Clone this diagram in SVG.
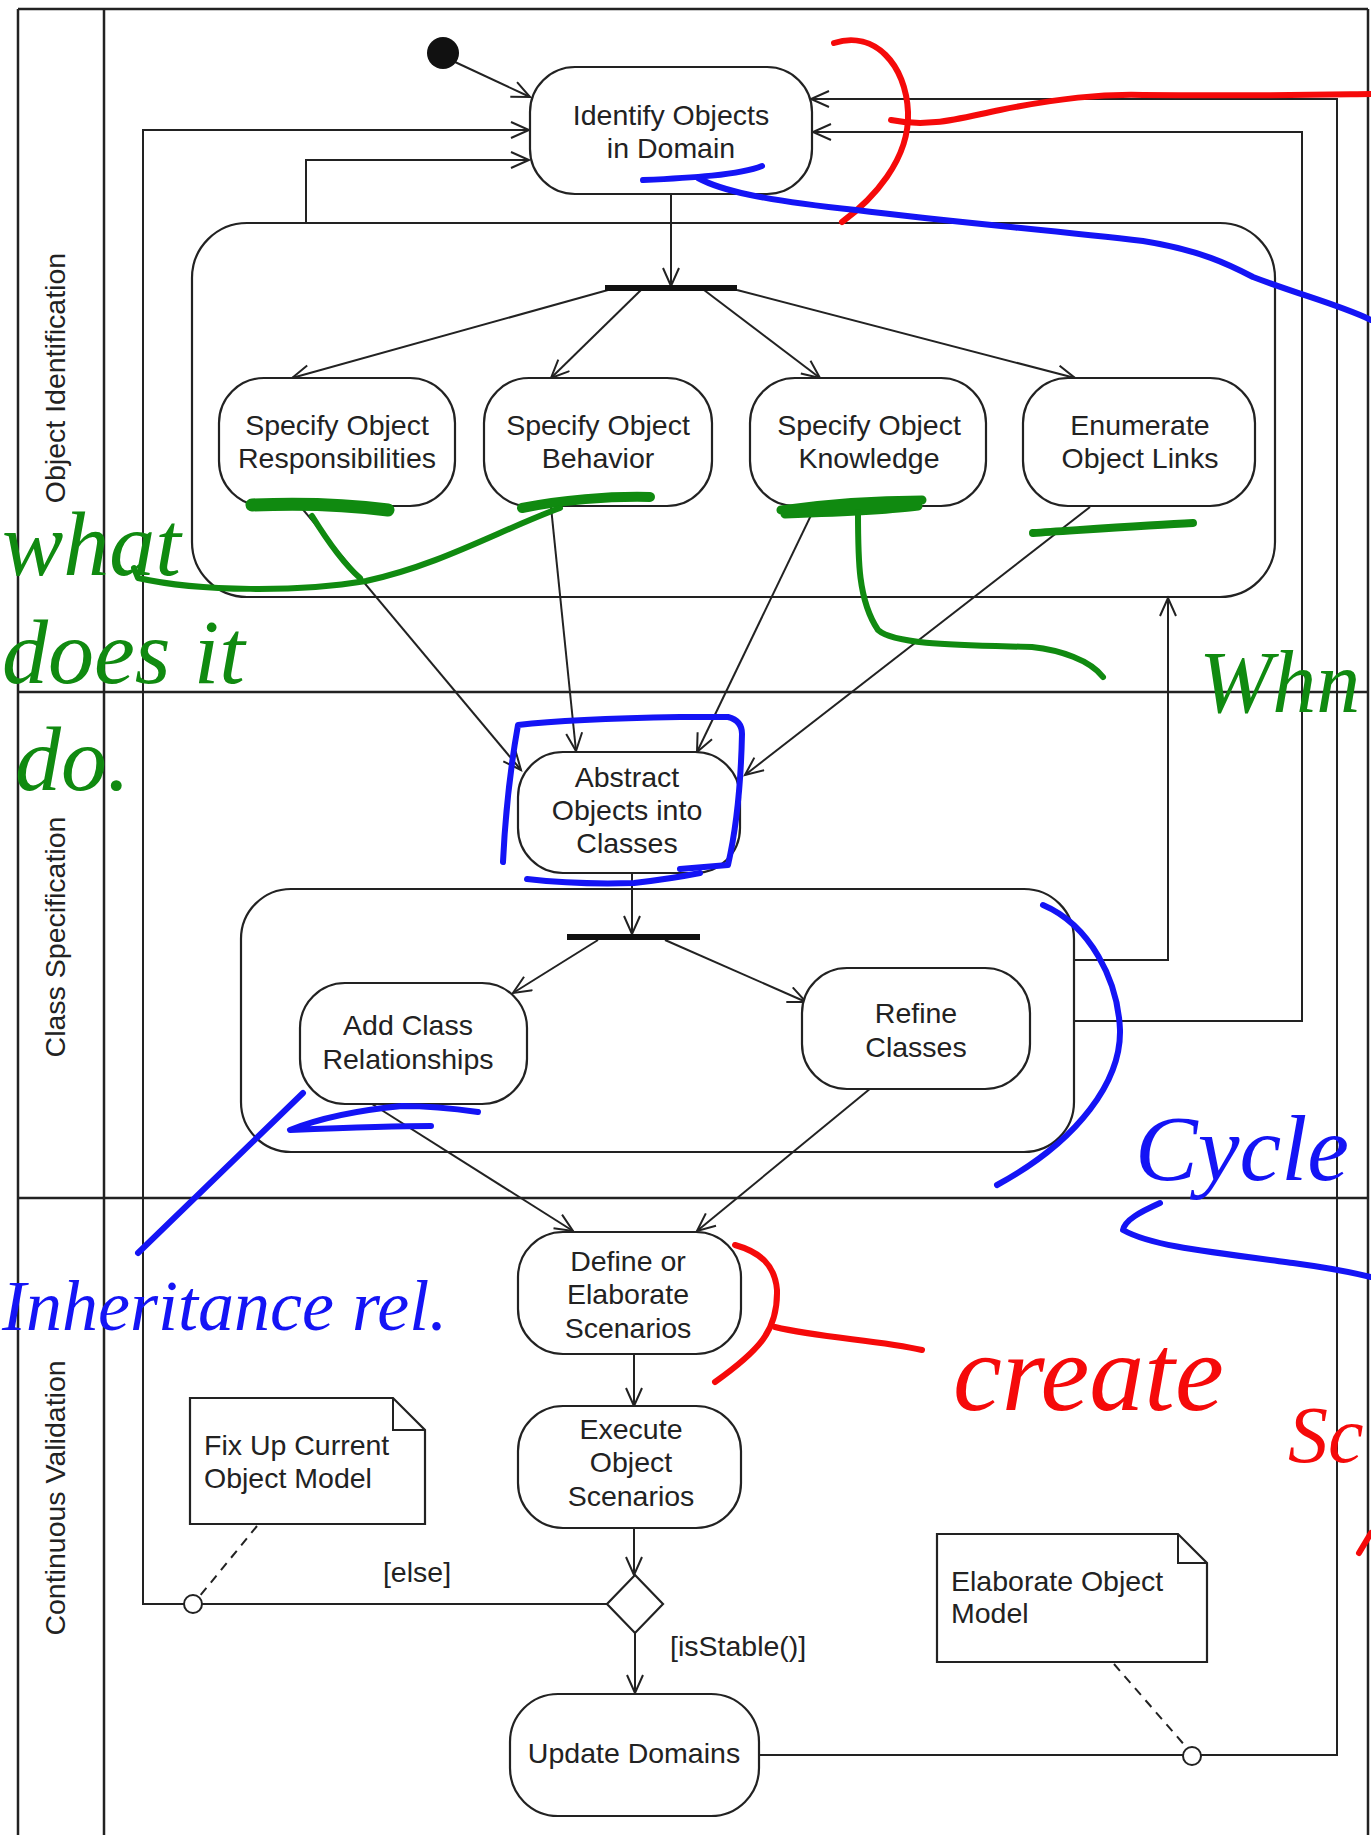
<svg xmlns="http://www.w3.org/2000/svg" width="1371" height="1835" viewBox="0 0 1371 1835">
<defs>
<style>
.frame{stroke:#222;stroke-width:2.5;fill:none}
.box{fill:none;stroke:#222;stroke-width:2.2}
.act{fill:#fff;stroke:#222;stroke-width:2.2}
.note{fill:#fff;stroke:#222;stroke-width:2.2}
.lbl{font-family:"Liberation Sans",Arial,sans-serif;font-size:28.5px;fill:#222;text-anchor:middle}
.lft{font-family:"Liberation Sans",Arial,sans-serif;font-size:28.5px;fill:#222}
.e{stroke:#222;stroke-width:2;fill:none}
.ea{stroke:#222;stroke-width:2;fill:none;marker-end:url(#arr)}
.dash{stroke:#222;stroke-width:2;fill:none;stroke-dasharray:9 7}
.bar{stroke:#111;stroke-width:6}
.g{stroke:#108a10;fill:none;stroke-linecap:round;stroke-linejoin:round}
.b{stroke:#1414f5;fill:none;stroke-linecap:round;stroke-linejoin:round}
.r{stroke:#f50a0a;fill:none;stroke-linecap:round;stroke-linejoin:round}
.hw{font-family:"Liberation Serif","Times New Roman",serif;font-style:italic}
</style>
<marker id="arr" markerUnits="userSpaceOnUse" markerWidth="22" markerHeight="20" viewBox="0 0 22 20" refX="19" refY="9" orient="auto">
<path d="M1,1 L19,9 L1,17" fill="none" stroke="#222" stroke-width="2"/>
</marker>
</defs>
<rect width="1371" height="1835" fill="#fff"/>

<g id="frame">
<line class="frame" x1="18" y1="9" x2="1368" y2="9"/>
<line class="frame" x1="18" y1="9" x2="18" y2="1835"/>
<line class="frame" x1="104" y1="9" x2="104" y2="1835"/>
<line class="frame" x1="1368" y1="9" x2="1368" y2="1835"/>
<line class="frame" x1="18" y1="692" x2="1368" y2="692"/>
<line class="frame" x1="18" y1="1198" x2="1368" y2="1198"/>
<text class="lbl" transform="translate(65,378) rotate(-90)">Object Identification</text>
<text class="lbl" transform="translate(65,937) rotate(-90)">Class Specification</text>
<text class="lbl" transform="translate(65,1498) rotate(-90)">Continuous Validation</text>
</g>

<g id="region-object-identification"><rect class="box" x="192" y="223" width="1083" height="374" rx="55"/></g>
<g id="region-class-specification"><rect class="box" x="241" y="889" width="833" height="263" rx="50"/></g>

<g id="connectors">
<line class="ea" x1="455" y1="62" x2="530" y2="97"/>
<line class="ea" x1="671" y1="195" x2="671" y2="286"/>
<line class="ea" x1="608" y1="290" x2="292" y2="378"/>
<line class="ea" x1="641" y1="290" x2="551" y2="378"/>
<line class="ea" x1="704" y1="290" x2="820" y2="378"/>
<line class="ea" x1="737" y1="290" x2="1075" y2="378"/>
<line class="ea" x1="300" y1="506" x2="521" y2="770"/>
<line class="ea" x1="551" y1="507" x2="576" y2="751"/>
<line class="ea" x1="815" y1="507" x2="697" y2="752"/>
<line class="ea" x1="1090" y1="507" x2="745" y2="775"/>
<line class="ea" x1="632" y1="873" x2="632" y2="934"/>
<line class="ea" x1="598" y1="940" x2="513" y2="993"/>
<line class="ea" x1="665" y1="940" x2="806" y2="1002"/>
<line class="ea" x1="372" y1="1104" x2="573" y2="1231"/>
<line class="ea" x1="871" y1="1088" x2="697" y2="1231"/>
<line class="ea" x1="634" y1="1355" x2="634" y2="1406"/>
<line class="ea" x1="634" y1="1528" x2="634" y2="1575"/>
<line class="ea" x1="635" y1="1633" x2="635" y2="1693"/>
<path class="ea" d="M306,223 V160 H529"/>
<path class="ea" d="M607,1604 H143 V130 H529"/>
<path class="ea" d="M1074,960 H1168 V598"/>
<path class="ea" d="M1074,1021 H1302 V132 H813"/>
<path class="ea" d="M759,1755 H1337 V99 H811"/>
<line class="dash" x1="257" y1="1526" x2="199" y2="1597"/>
<line class="dash" x1="1114" y1="1664" x2="1187" y2="1748"/>
<circle cx="193" cy="1604" r="9" fill="#fff" stroke="#222" stroke-width="2"/>
<circle cx="1192" cy="1756" r="9" fill="#fff" stroke="#222" stroke-width="2"/>
<text class="lbl" x="417" y="1582">[else]</text>
<text class="lft" x="670" y="1656">[isStable()]</text>
</g>

<g id="start"><circle cx="443" cy="53" r="16" fill="#111"/></g>

<g id="identify-objects">
<rect class="act" x="530" y="67" width="282" height="127" rx="45"/>
<text class="lbl" x="671" y="125">Identify Objects</text>
<text class="lbl" x="671" y="158">in Domain</text>
</g>
<g id="fork1"><line class="bar" x1="605" y1="288" x2="737" y2="288"/></g>
<g id="specify-responsibilities">
<rect class="act" x="219" y="378" width="236" height="128" rx="45"/>
<text class="lbl" x="337" y="435">Specify Object</text>
<text class="lbl" x="337" y="468">Responsibilities</text>
</g>
<g id="specify-behavior">
<rect class="act" x="484" y="378" width="228" height="128" rx="45"/>
<text class="lbl" x="598" y="435">Specify Object</text>
<text class="lbl" x="598" y="468">Behavior</text>
</g>
<g id="specify-knowledge">
<rect class="act" x="750" y="378" width="236" height="128" rx="45"/>
<text class="lbl" x="869" y="435">Specify Object</text>
<text class="lbl" x="869" y="468">Knowledge</text>
</g>
<g id="enumerate-links">
<rect class="act" x="1023" y="378" width="232" height="128" rx="45"/>
<text class="lbl" x="1140" y="435">Enumerate</text>
<text class="lbl" x="1140" y="468">Object Links</text>
</g>
<g id="abstract-objects">
<rect class="act" x="518" y="752" width="222" height="121" rx="45"/>
<text class="lbl" x="627" y="787">Abstract</text>
<text class="lbl" x="627" y="820">Objects into</text>
<text class="lbl" x="627" y="853">Classes</text>
</g>
<g id="fork2"><line class="bar" x1="567" y1="937" x2="700" y2="937"/></g>
<g id="add-class-relationships">
<rect class="act" x="300" y="983" width="227" height="121" rx="45"/>
<text class="lbl" x="408" y="1035">Add Class</text>
<text class="lbl" x="408" y="1069">Relationships</text>
</g>
<g id="refine-classes">
<rect class="act" x="802" y="968" width="228" height="121" rx="45"/>
<text class="lbl" x="916" y="1023">Refine</text>
<text class="lbl" x="916" y="1057">Classes</text>
</g>
<g id="define-scenarios">
<rect class="act" x="518" y="1232" width="223" height="122" rx="45"/>
<text class="lbl" x="628" y="1271">Define or</text>
<text class="lbl" x="628" y="1304">Elaborate</text>
<text class="lbl" x="628" y="1338">Scenarios</text>
</g>
<g id="execute-scenarios">
<rect class="act" x="518" y="1406" width="223" height="122" rx="45"/>
<text class="lbl" x="631" y="1439">Execute</text>
<text class="lbl" x="631" y="1472">Object</text>
<text class="lbl" x="631" y="1506">Scenarios</text>
</g>
<g id="decision"><polygon points="635,1575 663,1604 635,1633 607,1604" fill="#fff" stroke="#222" stroke-width="2.2"/></g>
<g id="update-domains">
<rect class="act" x="510" y="1694" width="249" height="122" rx="48"/>
<text class="lbl" x="634" y="1763">Update Domains</text>
</g>
<g id="note-fixup">
<path class="note" d="M190,1398 H393 L425,1430 V1524 H190 Z"/>
<path class="e" d="M393,1398 V1430 H425"/>
<text class="lft" x="204" y="1455">Fix Up Current</text>
<text class="lft" x="204" y="1488">Object Model</text>
</g>
<g id="note-elaborate">
<path class="note" d="M937,1534 H1178 L1207,1563 V1662 H937 Z"/>
<path class="e" d="M1178,1534 V1563 H1207"/>
<text class="lft" x="951" y="1591">Elaborate Object</text>
<text class="lft" x="951" y="1623">Model</text>
</g>

<g id="annotations">
<path class="r" stroke-width="6" d="M834,43 C875,30 906,65 908,112 C910,160 872,200 842,222"/>
<path class="r" stroke-width="6" d="M891,120 C930,128 960,118 1000,110 C1060,98 1100,94 1143,95 C1250,96 1300,95 1371,94"/>
<path class="r" stroke-width="6" d="M735,1245 C760,1252 775,1265 777,1290 C778,1330 760,1350 715,1382"/>
<path class="r" stroke-width="6" d="M775,1327 C820,1338 880,1340 922,1350"/>
<path class="r" stroke-width="6" d="M1359,1553 L1371,1533"/>
<text class="hw" x="953" y="1410" font-size="110" fill="#f50a0a">create</text>
<text class="hw" x="1288" y="1462" font-size="80" fill="#f50a0a">Sc</text>

<path class="g" stroke-width="13" d="M252,505 C300,503 350,505 388,510"/>
<path class="g" stroke-width="10" d="M522,508 C560,500 610,496 650,497"/>
<path class="g" stroke-width="6" d="M560,508 C500,530 440,565 366,581 C300,592 200,592 138,578 L134,568"/>
<path class="g" stroke-width="6" d="M312,516 C330,545 345,565 360,578"/>
<path class="g" stroke-width="9" d="M781,510 C830,503 880,500 922,500 M785,514 C840,512 890,510 918,506"/>
<path class="g" stroke-width="6" d="M858,512 C858,560 858,600 878,630 C895,645 960,645 1032,647 C1060,650 1090,660 1103,677"/>
<path class="g" stroke-width="8" d="M1033,533 C1080,530 1150,525 1193,523"/>
<text class="hw" x="2" y="575" font-size="92" fill="#108a10">what</text>
<text class="hw" x="2" y="683" font-size="92" fill="#108a10">does it</text>
<text class="hw" x="15" y="790" font-size="92" fill="#108a10">do.</text>
<text class="hw" x="1199" y="712" font-size="88" fill="#108a10">Whn</text>

<path class="b" stroke-width="6" d="M643,180 C690,178 740,175 762,166"/>
<path class="b" stroke-width="6" d="M698,178 C720,190 760,200 856,210 C950,222 1050,230 1143,241 C1200,250 1230,265 1253,277 C1300,295 1340,305 1371,320"/>
<path class="b" stroke-width="6" d="M503,862 C505,820 510,770 518,725 C560,720 620,718 680,717 L728,717 C740,720 742,728 742,734 C741,780 736,830 728,865 L680,869"/>
<path class="b" stroke-width="6" d="M527,879 C570,884 600,884 634,883 C660,880 690,875 700,873"/>
<path class="b" stroke-width="6" d="M303,1093 L138,1253"/>
<path class="b" stroke-width="6" d="M478,1112 C450,1108 420,1106 402,1106 C360,1110 320,1118 290,1130 C340,1128 390,1126 431,1126"/>
<path class="b" stroke-width="6" d="M1043,905 C1090,925 1118,980 1120,1030 C1121,1080 1080,1140 997,1185"/>
<path class="b" stroke-width="6" d="M1160,1203 C1140,1212 1125,1220 1123,1230 C1150,1245 1193,1250 1293,1263 C1330,1268 1350,1272 1371,1277"/>
<text class="hw" x="1135" y="1180" font-size="94" fill="#1414f5">Cycle</text>
<text class="hw" x="2" y="1330" font-size="72" fill="#1414f5">Inheritance rel.</text>
</g>
</svg>
